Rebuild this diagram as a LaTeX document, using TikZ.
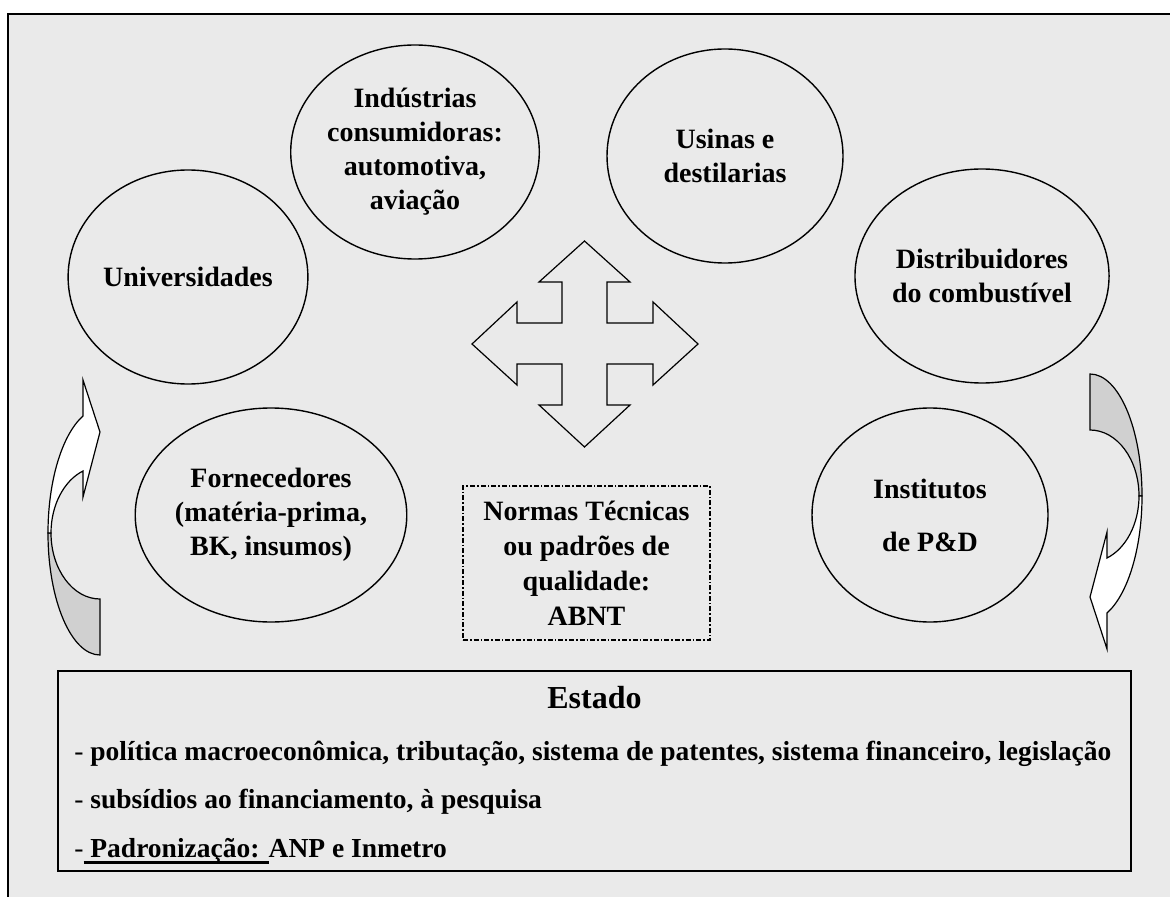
\documentclass[tikz,border=0pt]{standalone}
\usepackage{fontspec}
\setmainfont{Liberation Serif}
\usetikzlibrary{shapes.geometric}

\definecolor{panel}{HTML}{EAEAEA}
\definecolor{backface}{HTML}{D0D0D0}

\newcommand{\thickul}[1]{\setbox0=\hbox{#1}\rlap{\rule[-3.4pt]{\wd0}{1.2pt}}\box0}

% curved arrow: shaded back part, white front part with head
\newcommand{\bentarrow}{%
  \draw[outline, fill=backface] (100,655) -- (100,599) .. controls (73,599) and (51,569.5) .. (51,533)
    -- (48,533) .. controls (48,600.4) and (71.3,655) .. (100,655) -- cycle;
  \draw[outline, fill=white] (51,533) .. controls (51,505.4) and (63.8,480.7) .. (83,471)
    -- (83,497) -- (100,432) -- (83,380) -- (83,416)
    .. controls (62,434.7) and (48,481) .. (48,533) -- cycle;
}

\begin{document}
\begin{tikzpicture}[
    x=0.5pt, y=-0.5pt,
    actor/.style={ellipse, draw, line width=0.7pt, minimum width=118pt, minimum height=107pt, inner sep=0pt, align=center, font=\fontsize{14}{17}\selectfont\bfseries},
    norma/.style={rectangle, draw, line width=0.6pt, dash pattern=on 2.5pt off 1pt on 0.8pt off 1pt, minimum width=123.5pt, minimum height=77pt, inner sep=0pt, align=center, font=\fontsize{14}{17.5}\selectfont\bfseries},
    estadobox/.style={rectangle, draw, line width=1pt, minimum width=536.5pt, minimum height=100pt, inner sep=0pt},
    item/.style={anchor=base west, inner sep=0pt, font=\fontsize{13.75}{17}\selectfont\bfseries},
    outline/.style={draw, line width=0.6pt, line join=miter}
]

% page and panel
\clip (0,0) rectangle (1170,897);
\fill[white] (0,0) rectangle (1170,897);
\draw[fill=panel, line width=0.6pt] (8,14) rectangle (1190,920);

% actors
\node[actor] (univ) at (188,277) {Universidades};
\node[actor] (ind) at (415,152) {Indústrias\\consumidoras:\\automotiva,\\aviação};
\node[actor] (usinas) at (725,156) {Usinas e\\destilarias};
\node[actor] (distr) at (982,276) {Distribuidores\\do combustível};
\node[actor] (forn) at (271,515) {Fornecedores\\(matéria-prima,\\BK, insumos)};
\node[actor] (inst) at (930,515) {Institutos\\[9.5pt]de P\&D};

% four-way arrow
\draw[outline, fill=panel] (584.5,241) -- (630,282) -- (607,282) -- (607,323) -- (653,323) -- (653,302)
  -- (698,344) -- (653,385) -- (653,364) -- (607,364) -- (607,405) -- (630,405) -- (584.5,447)
  -- (539,405) -- (562,405) -- (562,364) -- (517,364) -- (517,385) -- (472,344) -- (517,302)
  -- (517,323) -- (562,323) -- (562,282) -- (539,282) -- cycle;

% standards
\node[norma] (normas) at (586.5,563) {Normas Técnicas\\ou padrões de\\qualidade:\\ABNT};

% curved arrows
\bentarrow
\begin{scope}[shift={(1190,1029)}, rotate=180]
  \bentarrow
\end{scope}

% state
\node[estadobox] (estado) at (594.5,771) {};
\node[anchor=base, inner sep=0pt, font=\fontsize{16}{19}\selectfont\bfseries] (titulo) at (594.5,708) {Estado};
\node[item] (pol) at (74,760) {{\mdseries -} política macroeconômica, tributação, sistema de patentes, sistema financeiro, legislação};
\node[item] (subs) at (74,808) {{\mdseries -} subsídios ao financiamento, à pesquisa};
\node[item] (padr) at (74,857) {{\mdseries -}\thickul{ Padronização: }ANP e Inmetro};

\end{tikzpicture}
\end{document}
